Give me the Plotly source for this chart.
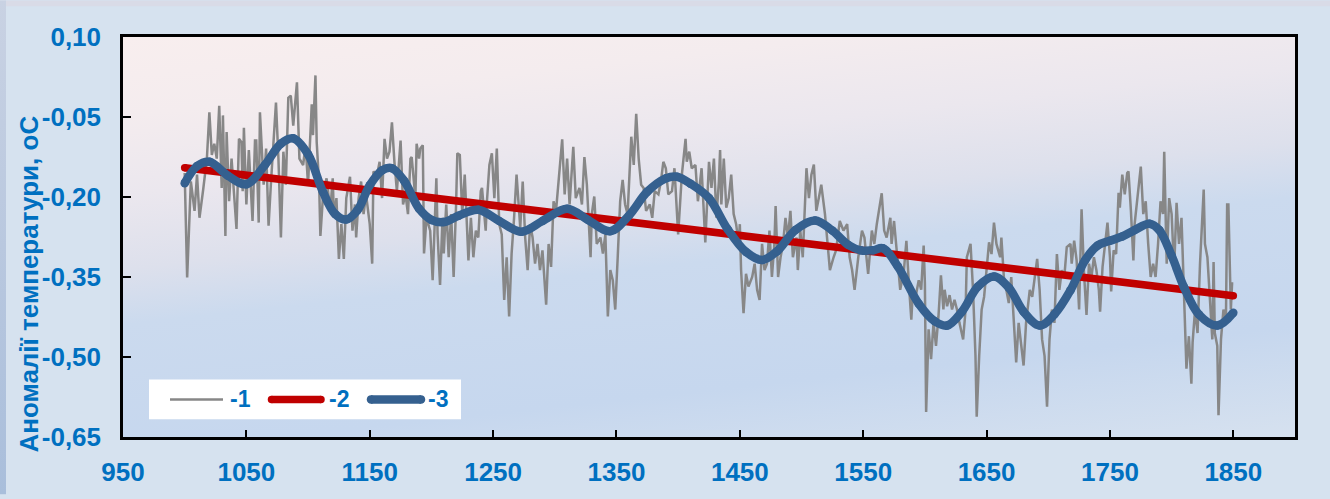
import base64
import plotly.graph_objects as go

# ---- Series 1: annual temperature anomalies (years, values) ----
years1 = [
    1000, 1002, 1005, 1008, 1010, 1012, 1015, 1018, 1020, 1022, 1024, 1026, 1028, 1030, 1031, 1033,
    1034, 1036, 1038, 1040, 1042, 1044, 1046, 1047, 1048, 1050, 1052, 1055, 1057, 1058, 1060, 1061,
    1064, 1066, 1068, 1070, 1074, 1076, 1078, 1080, 1082, 1084, 1086, 1088, 1091, 1093, 1096, 1098,
    1100, 1103, 1104, 1106, 1107, 1109, 1110, 1112, 1115, 1118, 1120, 1121, 1123, 1125, 1127, 1129,
    1131, 1134, 1136, 1138, 1139, 1141, 1143, 1145, 1147, 1150, 1152, 1153, 1156, 1158, 1160, 1162,
    1164, 1166, 1168, 1170, 1172, 1175, 1177, 1179, 1181, 1183, 1184, 1187, 1188, 1190, 1191, 1193,
    1194, 1196, 1199, 1201, 1204, 1205, 1207, 1209, 1210, 1212, 1214, 1216, 1218, 1220, 1221, 1223,
    1225, 1227, 1230, 1232, 1234, 1236, 1238, 1240, 1241, 1244, 1245, 1247, 1249, 1251, 1253, 1255,
    1257, 1259, 1261, 1263, 1265, 1267, 1269, 1272, 1274, 1276, 1278, 1280, 1282, 1284, 1286, 1288,
    1290, 1293, 1295, 1297, 1299, 1301, 1304, 1306, 1308, 1310, 1312, 1315, 1317, 1320, 1322, 1324,
    1326, 1329, 1330, 1332, 1334, 1337, 1339, 1341, 1343, 1345, 1347, 1349, 1351, 1353, 1355, 1357,
    1359, 1362, 1364, 1366, 1368, 1370, 1372, 1374, 1377, 1379, 1381, 1384, 1386, 1388, 1390, 1392,
    1395, 1397, 1400, 1403, 1406, 1407, 1409, 1411, 1414, 1416, 1419, 1422, 1425, 1427, 1429, 1431,
    1433, 1434, 1435, 1437, 1439, 1441, 1443, 1445, 1447, 1449, 1450, 1451, 1453, 1455, 1457, 1460,
    1462, 1464, 1466, 1468, 1470, 1472, 1474, 1476, 1478, 1479, 1481, 1483, 1485, 1487, 1489, 1491,
    1493, 1496, 1497, 1499, 1501, 1504, 1506, 1508, 1510, 1512, 1514, 1516, 1519, 1521, 1523, 1526,
    1528, 1531, 1534, 1537, 1539, 1541, 1543, 1546, 1549, 1551, 1554, 1557, 1559, 1561, 1563, 1565,
    1567, 1569, 1572, 1573, 1575, 1577, 1579, 1580, 1583, 1585, 1587, 1589, 1590, 1592, 1595, 1597,
    1599, 1600, 1601, 1603, 1605, 1607, 1609, 1611, 1613, 1615, 1616, 1618, 1620, 1622, 1624, 1626,
    1628, 1631, 1633, 1634, 1637, 1639, 1641, 1642, 1644, 1646, 1648, 1650, 1652, 1654, 1656, 1658,
    1661, 1662, 1664, 1666, 1668, 1670, 1672, 1674, 1676, 1678, 1680, 1682, 1685, 1687, 1689, 1691,
    1693, 1695, 1697, 1699, 1701, 1703, 1705, 1707, 1709, 1711, 1713, 1715, 1718, 1719, 1721, 1723,
    1725, 1726, 1727, 1729, 1731, 1733, 1735, 1737, 1739, 1741, 1742, 1744, 1746, 1748, 1750, 1751,
    1753, 1755, 1757, 1758, 1760, 1762, 1764, 1765, 1767, 1769, 1770, 1772, 1775, 1777, 1779, 1781,
    1783, 1785, 1787, 1789, 1791, 1793, 1794, 1796, 1798, 1800, 1802, 1804, 1806, 1808, 1810, 1811,
    1812, 1814, 1816, 1817, 1819, 1821, 1823, 1826, 1827, 1829, 1831, 1833, 1834, 1835, 1837, 1838,
    1840, 1842, 1844, 1845, 1846, 1848, 1849, 1850,
]
anomaly1 = [
    -0.155, -0.351, -0.171, -0.226, -0.158, -0.239, -0.186, -0.128, -0.041, -0.121, -0.100, -0.128, -0.029, -0.183, -0.047, -0.273,
    -0.078, -0.208, -0.128, -0.189, -0.260, -0.091, -0.097, -0.189, -0.070, -0.214, -0.112, -0.245, -0.094, -0.094, -0.248, -0.041,
    -0.177, -0.109, -0.254, -0.171, -0.023, -0.128, -0.276, -0.115, -0.177, -0.014, -0.010, -0.066, 0.015, -0.128, -0.140, -0.103,
    -0.177, -0.026, -0.084, 0.028, -0.097, -0.177, -0.273, -0.202, -0.165, -0.226, -0.165, -0.239, -0.202, -0.316, -0.251, -0.316,
    -0.202, -0.162, -0.263, -0.214, -0.276, -0.202, -0.171, -0.232, -0.195, -0.251, -0.325, -0.152, -0.158, -0.134, -0.202, -0.091,
    -0.128, -0.115, -0.060, -0.134, -0.189, -0.094, -0.214, -0.195, -0.232, -0.128, -0.125, -0.202, -0.100, -0.128, -0.109, -0.103,
    -0.306, -0.239, -0.263, -0.356, -0.165, -0.270, -0.365, -0.239, -0.306, -0.214, -0.313, -0.232, -0.350, -0.214, -0.118, -0.121,
    -0.232, -0.158, -0.319, -0.239, -0.313, -0.263, -0.276, -0.189, -0.183, -0.263, -0.208, -0.140, -0.118, -0.202, -0.109, -0.251,
    -0.270, -0.393, -0.313, -0.424, -0.306, -0.239, -0.158, -0.257, -0.171, -0.276, -0.337, -0.251, -0.276, -0.325, -0.288, -0.337,
    -0.300, -0.402, -0.288, -0.331, -0.208, -0.226, -0.140, -0.092, -0.195, -0.128, -0.214, -0.106, -0.202, -0.183, -0.214, -0.125,
    -0.177, -0.313, -0.232, -0.199, -0.288, -0.276, -0.306, -0.270, -0.424, -0.337, -0.356, -0.411, -0.313, -0.208, -0.168, -0.214,
    -0.232, -0.087, -0.140, -0.044, -0.128, -0.177, -0.183, -0.226, -0.214, -0.239, -0.189, -0.195, -0.171, -0.134, -0.146, -0.195,
    -0.189, -0.146, -0.270, -0.158, -0.091, -0.134, -0.115, -0.146, -0.140, -0.208, -0.146, -0.285, -0.134, -0.183, -0.128, -0.239,
    -0.171, -0.112, -0.214, -0.128, -0.220, -0.202, -0.158, -0.232, -0.251, -0.288, -0.251, -0.337, -0.418, -0.344, -0.368, -0.350,
    -0.325, -0.374, -0.393, -0.288, -0.337, -0.325, -0.263, -0.350, -0.288, -0.217, -0.350, -0.313, -0.288, -0.239, -0.276, -0.226,
    -0.313, -0.276, -0.337, -0.263, -0.313, -0.146, -0.202, -0.158, -0.139, -0.226, -0.202, -0.177, -0.232, -0.288, -0.337, -0.313,
    -0.300, -0.245, -0.263, -0.251, -0.313, -0.337, -0.374, -0.313, -0.263, -0.276, -0.344, -0.263, -0.288, -0.251, -0.220, -0.193,
    -0.263, -0.276, -0.239, -0.288, -0.245, -0.294, -0.344, -0.374, -0.337, -0.282, -0.362, -0.430, -0.387, -0.393, -0.356, -0.374,
    -0.291, -0.362, -0.603, -0.448, -0.504, -0.436, -0.479, -0.424, -0.347, -0.411, -0.374, -0.405, -0.384, -0.411, -0.393, -0.411,
    -0.436, -0.467, -0.411, -0.313, -0.288, -0.374, -0.498, -0.612, -0.498, -0.411, -0.387, -0.331, -0.285, -0.307, -0.248, -0.288,
    -0.313, -0.276, -0.350, -0.374, -0.399, -0.350, -0.436, -0.510, -0.436, -0.473, -0.516, -0.436, -0.374, -0.387, -0.350, -0.316,
    -0.374, -0.467, -0.498, -0.593, -0.467, -0.411, -0.436, -0.307, -0.374, -0.337, -0.350, -0.294, -0.288, -0.325, -0.282, -0.319,
    -0.411, -0.288, -0.223, -0.344, -0.421, -0.325, -0.350, -0.313, -0.337, -0.374, -0.415, -0.331, -0.288, -0.248, -0.313, -0.377,
    -0.300, -0.307, -0.192, -0.220, -0.158, -0.195, -0.155, -0.152, -0.226, -0.319, -0.251, -0.208, -0.143, -0.232, -0.208, -0.288,
    -0.350, -0.325, -0.350, -0.288, -0.208, -0.232, -0.115, -0.325, -0.202, -0.232, -0.337, -0.211, -0.288, -0.239, -0.399, -0.448,
    -0.522, -0.461, -0.550, -0.473, -0.411, -0.455, -0.325, -0.186, -0.288, -0.313, -0.387, -0.467, -0.322, -0.455, -0.479, -0.609,
    -0.467, -0.411, -0.436, -0.214, -0.214, -0.411, -0.362, -0.362,
]

# ---- Series 2: linear trend ----
years2 = [1000, 1850]
trend2 = [-0.145, -0.385]

# ---- Series 3: smoothed curve ----
years3 = [
    1000, 1010, 1020, 1035, 1050, 1065, 1078, 1088, 1100, 1112, 1122, 1131, 1140, 1150, 1160, 1168,
    1178, 1190, 1200, 1210, 1222, 1238, 1255, 1273, 1290, 1310, 1327, 1345, 1360, 1375, 1390, 1399,
    1410, 1425, 1440, 1455, 1468, 1480, 1495, 1511, 1525, 1538, 1548, 1558, 1566, 1578, 1595, 1608,
    1618, 1630, 1643, 1656, 1668, 1680, 1693, 1705, 1718, 1730, 1740, 1750, 1760, 1770, 1782, 1790,
    1800, 1810, 1822, 1837, 1850,
]
smooth3 = [
    -0.174, -0.142, -0.134, -0.160, -0.176, -0.140, -0.100, -0.090, -0.120, -0.190, -0.232, -0.242, -0.225, -0.178, -0.150, -0.146,
    -0.170, -0.222, -0.243, -0.247, -0.235, -0.224, -0.245, -0.265, -0.245, -0.222, -0.243, -0.264, -0.235, -0.190, -0.165, -0.162,
    -0.175, -0.202, -0.260, -0.303, -0.318, -0.302, -0.262, -0.244, -0.263, -0.290, -0.300, -0.300, -0.296, -0.330, -0.400, -0.433,
    -0.441, -0.415, -0.368, -0.349, -0.370, -0.415, -0.441, -0.420, -0.375, -0.318, -0.291, -0.282, -0.274, -0.262, -0.250, -0.262,
    -0.310, -0.369, -0.420, -0.441, -0.417,
]

# ---- Axis ticks ----
x_tickvals = [950, 1050, 1150, 1250, 1350, 1450, 1550, 1650, 1750, 1850]
x_ticktext = ["950", "1050", "1150", "1250", "1350", "1450", "1550", "1650", "1750", "1850"]
y_tickvals = [0.10, -0.05, -0.20, -0.35, -0.50, -0.65]
y_ticktext = ["0,10", "-0,05", "-0,20", "-0,35", "-0,50", "-0,65"]

legend_labels = ["-1", "-2", "-3"]
y_title = "Аномалії температури, оС"

GRAY = "#878787"
RED = "#c00000"
BLUE = "#35608f"
TEXT_BLUE = "#0070c0"
FONT = "Liberation Sans, Arial, sans-serif"

W, H = 1330, 499
ML, MR, MT, MB = 123, 35, 37, 58
PW, PH = W - ML - MR, H - MT - MB


def svg_uri(svg):
    return "data:image/svg+xml;base64," + base64.b64encode(svg.encode("utf-8")).decode("ascii")


# page background with a faint darker frame on the top and left edges
page_svg = (
    f'<svg xmlns="http://www.w3.org/2000/svg" width="{W}" height="{H}" viewBox="0 0 {W} {H}" preserveAspectRatio="none">'
    '<defs><linearGradient id="lv" x1="0" y1="0" x2="0" y2="1">'
    '<stop offset="0" stop-color="#c9d2e3"/><stop offset="1" stop-color="#a9bedb"/></linearGradient></defs>'
    f'<rect width="{W}" height="{H}" fill="#d6e2ef"/>'
    f'<rect width="{W}" height="6" fill="#d9dbe7"/>'
    f'<rect width="6" height="{H}" fill="url(#lv)"/>'
    '</svg>'
)

# plot area: diagonal pink-to-blue wash
plot_svg = (
    f'<svg xmlns="http://www.w3.org/2000/svg" width="{PW}" height="{PH}" viewBox="0 0 {PW} {PH}" preserveAspectRatio="none">'
    '<defs><linearGradient id="g" gradientUnits="userSpaceOnUse" x1="0" y1="0" x2="57.9" y2="526.6">'
    '<stop offset="0" stop-color="#f8eeee"/>'
    '<stop offset="0.15" stop-color="#f4ecee"/>'
    '<stop offset="0.30" stop-color="#ebe7ee"/>'
    '<stop offset="0.44" stop-color="#dde0ec"/>'
    '<stop offset="0.545" stop-color="#cbdaee"/>'
    '<stop offset="0.79" stop-color="#c6d7ee"/>'
    '<stop offset="1" stop-color="#d6e1ef"/>'
    '</linearGradient></defs>'
    f'<rect width="{PW}" height="{PH}" fill="url(#g)"/>'
    '</svg>'
)

fig = go.Figure()

fig.add_trace(go.Scatter(
    x=years1, y=anomaly1, mode="lines",
    line=dict(color=GRAY, width=2.5), name=legend_labels[0], showlegend=False,
))
fig.add_trace(go.Scatter(
    x=years2, y=trend2, mode="lines+markers",
    line=dict(color=RED, width=7.5), marker=dict(color=RED, size=7.5),
    name=legend_labels[1], showlegend=False,
))
fig.add_trace(go.Scatter(
    x=years3, y=smooth3, mode="lines+markers",
    line=dict(color=BLUE, width=8.5, shape="spline", smoothing=1.0),
    marker=dict(color=BLUE, size=8.5),
    name=legend_labels[2], showlegend=False,
))


def px_x(px):
    return (px - ML) / PW


def px_y(py):
    return (H - MB - py) / PH


shapes = []
annotations = []

# legend box
shapes.append(dict(type="rect", xref="paper", yref="paper",
                   x0=px_x(149), x1=px_x(461), y0=px_y(423), y1=px_y(383),
                   fillcolor="white", line=dict(width=0), layer="above"))
ly = px_y(403)
legend_items = [
    (GRAY, 2.5, 170, 223, 228, False),
    (RED, 7.5, 271.5, 321, 327, True),
    (BLUE, 8.5, 371, 421, 426, True),
]
for (color, width, xa, xb, xt, caps), label in zip(legend_items, legend_labels):
    shapes.append(dict(type="line", xref="paper", yref="paper",
                       x0=px_x(xa), x1=px_x(xb), y0=ly, y1=ly,
                       line=dict(color=color, width=width), layer="above"))
    if caps:
        r = width / 2
        for xe in (xa, xb):
            shapes.append(dict(type="circle", xref="paper", yref="paper",
                               xsizemode="pixel", ysizemode="pixel",
                               xanchor=px_x(xe), yanchor=ly,
                               x0=-r, x1=r, y0=-r, y1=r,
                               fillcolor=color, line=dict(width=0), layer="above"))
    annotations.append(dict(xref="paper", yref="paper", x=px_x(xt), y=ly,
                            xanchor="left", yanchor="middle", showarrow=False,
                            text=label, font=dict(family=FONT, size=23, color=TEXT_BLUE, weight="bold")))

# rotated y-axis title
annotations.append(dict(xref="paper", yref="paper", x=px_x(29), y=px_y(287),
                        xanchor="center", yanchor="middle", showarrow=False, textangle=-90,
                        text=y_title, font=dict(family=FONT, size=26, color=TEXT_BLUE, weight="bold")))

fig.update_layout(
    width=W, height=H,
    margin=dict(l=ML, r=MR, t=MT, b=MB, pad=0),
    paper_bgcolor="#d6e2ef",
    plot_bgcolor="rgba(0,0,0,0)",
    showlegend=False,
    shapes=shapes,
    annotations=annotations,
    images=[
        dict(source=svg_uri(page_svg), xref="paper", yref="paper",
             x=-ML / PW, y=1 + MT / PH, sizex=W / PW, sizey=H / PH,
             xanchor="left", yanchor="top", sizing="stretch", layer="below"),
        dict(source=svg_uri(plot_svg), xref="paper", yref="paper",
             x=0, y=1, sizex=1, sizey=1,
             xanchor="left", yanchor="top", sizing="stretch", layer="below"),
    ],
    xaxis=dict(
        range=[950, 1900], tickvals=x_tickvals, ticktext=x_ticktext,
        showgrid=False, zeroline=False,
        showline=True, linecolor="black", linewidth=2.5, mirror=True,
        ticks="inside", ticklen=7, tickwidth=1.5, tickcolor="black",
        tickfont=dict(family=FONT, size=26, color=TEXT_BLUE, weight="bold"),
        ticklabelstandoff=10,
    ),
    yaxis=dict(
        range=[-0.65, 0.10], tickvals=y_tickvals, ticktext=y_ticktext,
        showgrid=False, zeroline=False,
        showline=True, linecolor="black", linewidth=2.5, mirror=True,
        ticks="inside", ticklen=8, tickwidth=1.5, tickcolor="black",
        tickfont=dict(family=FONT, size=26, color=TEXT_BLUE, weight="bold"),
        ticklabelstandoff=14,
    ),
)

fig.write_html("out.html")
